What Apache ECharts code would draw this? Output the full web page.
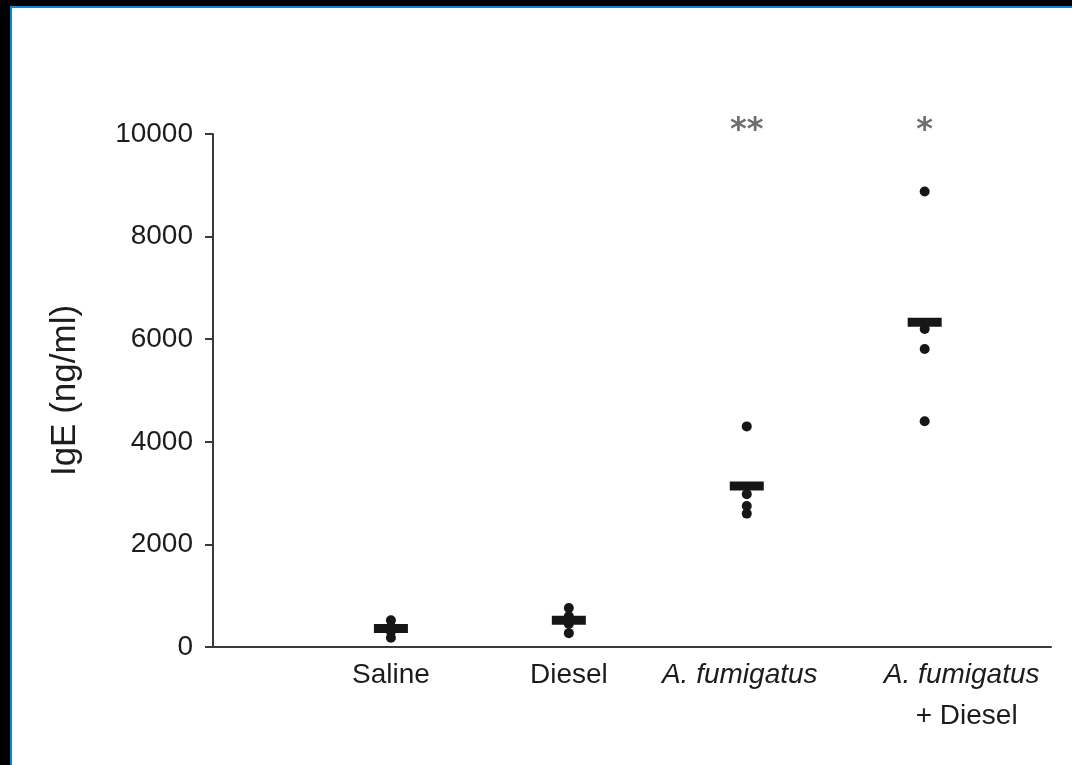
<!DOCTYPE html>
<html>
<head>
<meta charset="utf-8">
<script src="https://cdn.jsdelivr.net/npm/echarts@6/dist/echarts.min.js"></script>
<style>
  html, body { margin: 0; padding: 0; background: #000; }
  #frame {
    position: absolute; left: 10px; top: 6px;
    width: 1062px; height: 759px;
    border-top: 2px solid #0a86d2; border-left: 2px solid #0a86d2;
    box-sizing: border-box; background: #fff;
  }
  #chart { width: 1060px; height: 757px; }
</style>
</head>
<body>
<div id="frame"><div id="chart"></div></div>
<script>
// Serum IgE per treatment group (ng/ml), one value per animal
const categories = ['Saline', 'Diesel', 'A. fumigatus', 'A. fumigatus + Diesel'];
const salineIgE = [520, 400, 300, 180];
const dieselIgE = [760, 600, 450, 270];
const afIgE = [4300, 2980, 2750, 2600];
const afDieselIgE = [8880, 6200, 5810, 4400];
const groupMeans = [360, 520, 3140, 6330];
const significance = ['', '', '**', '*'];
const yTicks = [0, 2000, 4000, 6000, 8000, 10000];

const groups = [salineIgE, dieselIgE, afIgE, afDieselIgE];
const dotData = [];
groups.forEach((vals, i) => vals.forEach(v => dotData.push([i + 1, v])));
const meanData = groupMeans.map((m, i) => [i + 1, m]);
const sigData = significance.map((s, i) => ({ value: [i + 1, yTicks[yTicks.length - 1]], sig: s }));

const textColor = '#1c1c1c';
const markColor = '#161616';
const font = 'Liberation Sans, Arial, sans-serif';
const fs = 28;

const chart = echarts.init(document.getElementById('chart'));
chart.setOption({
  animation: false,
  backgroundColor: '#fff',
  grid: { left: 201, top: 126, right: 21, bottom: 118, containLabel: false },
  xAxis: {
    type: 'value', min: 0, max: 4.71, interval: 1,
    splitLine: { show: false },
    axisTick: { show: false },
    axisLine: { show: true, onZero: false, lineStyle: { color: '#3a3a3a', width: 2 } },
    axisLabel: {
      margin: 8,
      showMinLabel: false, showMaxLabel: false,
      formatter: v => {
        const i = Math.round(v) - 1;
        if (i === 0 || i === 1) return '{n|' + categories[i] + '}';
        if (i === 2) return '{a|' + categories[2] + '}';
        if (i === 3) {
          const parts = categories[3].split(' + ');
          return '{b|' + parts[0] + '}\n{c|+ ' + parts[1] + '}';
        }
        return '';
      },
      rich: {
        n: { fontSize: fs, fontFamily: font, color: textColor, lineHeight: 41 },
        a: { fontSize: fs, fontFamily: font, fontStyle: 'italic', color: textColor, lineHeight: 41, padding: [0, 14, 0, 0] },
        b: { fontSize: fs, fontFamily: font, fontStyle: 'italic', color: textColor, lineHeight: 41, padding: [0, 0, 0, 74] },
        c: { fontSize: fs, fontFamily: font, color: textColor, lineHeight: 41, padding: [0, 0, 0, 84] }
      }
    }
  },
  yAxis: {
    type: 'value', min: yTicks[0], max: yTicks[yTicks.length - 1], interval: 2000,
    name: 'IgE (ng/ml)',
    nameLocation: 'middle', nameGap: 130, nameRotate: 90,
    nameTextStyle: { fontSize: 35, fontFamily: font, color: textColor },
    splitLine: { show: false },
    axisLine: { show: true, lineStyle: { color: '#3a3a3a', width: 2 } },
    axisTick: { show: true, inside: false, length: 8, lineStyle: { color: '#3a3a3a', width: 2 } },
    axisLabel: {
      fontSize: fs, fontFamily: font, color: textColor, margin: 20,
      formatter: v => String(v)
    }
  },
  series: [
    {
      name: 'animals', type: 'scatter', data: dotData,
      symbol: 'circle', symbolSize: 10,
      itemStyle: { color: markColor, opacity: 1 }
    },
    {
      name: 'mean', type: 'scatter', data: meanData,
      symbol: 'rect', symbolSize: [34, 9],
      itemStyle: { color: markColor, opacity: 1 }, z: 3
    },
    {
      name: 'significance', type: 'scatter', data: sigData,
      symbolSize: 0, clip: false, silent: true,
      label: {
        show: true, position: 'top', distance: -13,
        formatter: p => p.data.sig,
        fontSize: 32, fontWeight: 'bold', fontFamily: 'DejaVu Sans, sans-serif', color: '#4a4a4a'
      }
    }
  ]
});
</script>
</body>
</html>
